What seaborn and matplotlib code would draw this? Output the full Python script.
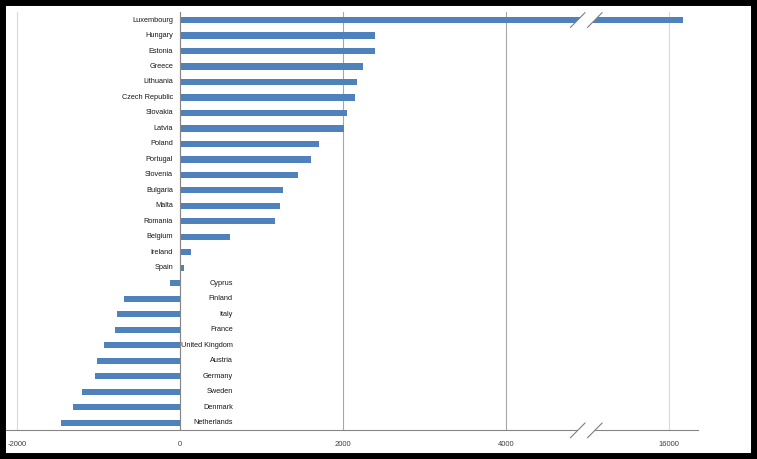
import numpy as np
import pandas as pd
import seaborn as sns
import matplotlib.pyplot as plt
from matplotlib.patches import Rectangle

# data
countries = ["Luxembourg", "Hungary", "Estonia", "Greece", "Lithuania", "Czech Republic",
             "Slovakia", "Latvia", "Poland", "Portugal", "Slovenia", "Bulgaria", "Malta",
             "Romania", "Belgium", "Ireland", "Spain", "Cyprus", "Finland", "Italy", "France",
             "United Kingdom", "Austria", "Germany", "Sweden", "Denmark", "Netherlands"]
values = [16170, 2390, 2390, 2245, 2170, 2145, 2050, 2015, 1710, 1605, 1450, 1265, 1230,
          1165, 610, 140, 50, -125, -690, -775, -800, -935, -1020, -1045, -1200, -1315, -1460]
tick_vals = [-2000, 0, 2000, 4000, 16000]

BREAK = 10000  # axis is cut between 4000 and 16000
def shift(v):
    return v - BREAK if v > BREAK else v

df = pd.DataFrame({"country": countries, "value": [shift(v) for v in values]})

sns.set_style("white")
plt.rcParams["font.family"] = ["Liberation Sans", "DejaVu Sans"]

fig = plt.figure(figsize=(7.57, 4.59), dpi=100)
ax = fig.add_axes([6 / 757, 1 - 430.4 / 459, 692 / 757, 418.1 / 459])

sns.barplot(data=df, x="value", y="country", orient="h", color="#4F81BD",
            saturation=1, width=0.4, linewidth=0, ax=ax)

ax.set_xlabel("")
ax.set_ylabel("")

# gridlines
ax.xaxis.grid(True, color="#a6a6a6", lw=0.8)
ax.set_axisbelow(True)

# spines
for s in ["top", "right"]:
    ax.spines[s].set_visible(False)
ax.spines["bottom"].set_color("#868686")
ax.spines["bottom"].set_linewidth(0.8)
ax.spines["left"].set_position(("data", 0))
ax.spines["left"].set_color("#868686")
ax.spines["left"].set_linewidth(0.8)

ax.set_yticks([])
ax.set_yticks(np.arange(-0.5, len(countries), 1), minor=True)
ax.tick_params(axis="y", which="minor", length=2.5, color="#868686", width=0.6)

# category labels next to the zero axis
for i, (c, v) in enumerate(zip(countries, values)):
    if v >= 0:
        ax.annotate(c, xy=(0, i), xytext=(-5, 0), textcoords="offset points",
                    ha="right", va="center", fontsize=5.3, color="#1a1a1a")
    else:
        ax.annotate(c, xy=(0, i), xytext=(38, 0), textcoords="offset points",
                    ha="right", va="center", fontsize=5.3, color="#1a1a1a")

# axis break marks on the long bar and on the x axis
x1, x2, dx, dy = 4880, 5090, 90, 0.48
for yc in [0, len(countries) - 0.5]:
    ax.fill([x1 - dx, x1 + dx, x2 + dx, x2 - dx], [yc + dy, yc - dy, yc - dy, yc + dy],
            color="white", zorder=3, clip_on=False, lw=0)
    for xc in [x1, x2]:
        ax.plot([xc - dx, xc + dx], [yc + dy, yc - dy], color="#7f7f7f", lw=0.8,
                zorder=4, clip_on=False)

ax.set_xlim(-2135, 6356)
ax.set_ylim(len(countries) - 0.5, -0.5)
ax.set_xticks([shift(t) for t in tick_vals])
ax.set_xticklabels([str(t) for t in tick_vals])
ax.tick_params(axis="x", length=3, color="#868686", labelsize=5.5, labelcolor="#404040", pad=4.5)
gl = ax.get_xgridlines()
gl[0].set_color("#d9d9d9")
gl[-1].set_color("#d9d9d9")

# black frame round the picture
fig.add_artist(Rectangle((0, 0), 1, 1, transform=fig.transFigure, fill=False,
                         ec="black", lw=8.6))

fig.savefig("out.png", dpi=100)
